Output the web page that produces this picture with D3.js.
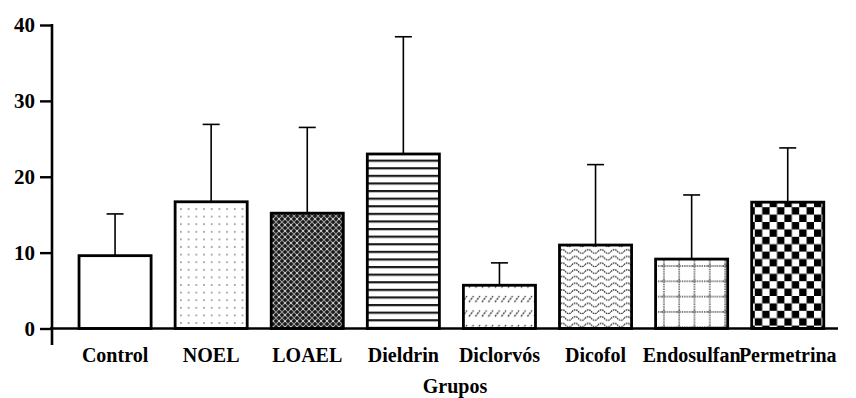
<!DOCTYPE html>
<html>
<head>
<meta charset="utf-8">
<script src="https://cdn.jsdelivr.net/npm/d3@7"></script>
<style>
  html, body { margin: 0; padding: 0; background: #fff; }
  svg { display: block; }
</style>
</head>
<body>
<svg id="chart" width="856" height="398"></svg>
<script>
const categories = ["Control", "NOEL", "LOAEL", "Dieldrin", "Diclorvós", "Dicofol", "Endosulfan", "Permetrina"];
const means = [9.6, 16.7, 15.2, 23.0, 5.7, 11.0, 9.15, 16.65];
const errorTops = [15.1, 26.9, 26.5, 38.45, 8.65, 21.6, 17.6, 23.8];
const yTicks = [0, 10, 20, 30, 40];
const xTitle = "Grupos";
const patternIds = ["pControl", "pNoel", "pLoael", "pDieldrin", "pDiclorvos", "pDicofol", "pEndosulfan", "pPermetrina"];
const FONT = "'Liberation Serif', 'Times New Roman', Times, serif";

const svg = d3.select("#chart");
const defs = svg.append("defs");

// Patterns
defs.append("pattern").attr("id", "pControl").attr("patternUnits", "userSpaceOnUse")
  .attr("width", 8).attr("height", 8)
  .append("rect").attr("width", 8).attr("height", 8).attr("fill", "#fff");

(function(){
  const p = defs.append("pattern").attr("id", "pNoel").attr("patternUnits", "userSpaceOnUse")
    .attr("width", 7.7).attr("height", 7.6);
  p.append("rect").attr("width", 7.7).attr("height", 7.6).attr("fill", "#fff");
  p.append("circle").attr("cx", 3.8).attr("cy", 3.8).attr("r", 0.9).attr("fill", "#888");
})();

(function(){
  const p = defs.append("pattern").attr("id", "pLoael").attr("patternUnits", "userSpaceOnUse")
    .attr("width", 6).attr("height", 6);
  p.append("rect").attr("width", 6).attr("height", 6).attr("fill", "#1a1a1a");
  p.append("path").attr("d", "M0,0L6,6M6,0L0,6").attr("stroke", "#9a9a9a").attr("stroke-width", 1.1);
  p.append("circle").attr("cx", 3).attr("cy", 3).attr("r", 0.9).attr("fill", "#e0e0e0");
})();

(function(){
  const p = defs.append("pattern").attr("id", "pDieldrin").attr("patternUnits", "userSpaceOnUse")
    .attr("width", 8).attr("height", 7.6);
  p.append("rect").attr("width", 8).attr("height", 7.6).attr("fill", "#fff");
  p.append("rect").attr("y", 0).attr("width", 8).attr("height", 2.2).attr("fill", "#1a1a1a");
})();

(function(){
  const p = defs.append("pattern").attr("id", "pDiclorvos").attr("patternUnits", "userSpaceOnUse")
    .attr("width", 6.5).attr("height", 14.5).attr("y", 3);
  p.append("rect").attr("width", 6.5).attr("height", 14.5).attr("fill", "#fff");
  p.append("path").attr("d", "M1,9L5.5,3").attr("stroke", "#333").attr("stroke-width", 1.4)
    .attr("stroke-dasharray", "2,1");
})();

(function(){
  const p = defs.append("pattern").attr("id", "pDicofol").attr("patternUnits", "userSpaceOnUse")
    .attr("width", 13).attr("height", 6.7);
  p.append("rect").attr("width", 13).attr("height", 6.7).attr("fill", "#fff");
  p.append("path").attr("d", "M0,3.5C2,1 4.5,1 6.5,3.5C8.5,6 11,6 13,3.5")
    .attr("fill", "none").attr("stroke", "#333").attr("stroke-width", 1.3).attr("stroke-dasharray", "1.6,0.8");
})();

(function(){
  const p = defs.append("pattern").attr("id", "pEndosulfan").attr("patternUnits", "userSpaceOnUse")
    .attr("width", 15.3).attr("height", 15.3).attr("x", 4).attr("y", 4);
  p.append("rect").attr("width", 15.3).attr("height", 15.3).attr("fill", "#fff");
  p.append("path").attr("d", "M0,2L15.3,2M2,0L2,15.3").attr("stroke", "#444").attr("stroke-width", 1.4)
    .attr("stroke-dasharray", "1.3,1");
})();

(function(){
  const s = 7.4;
  const p = defs.append("pattern").attr("id", "pPermetrina").attr("patternUnits", "userSpaceOnUse")
    .attr("width", 2 * s).attr("height", 2 * s);
  p.append("rect").attr("width", 2 * s).attr("height", 2 * s).attr("fill", "#fff");
  p.append("rect").attr("x", s).attr("y", 0).attr("width", s).attr("height", s).attr("fill", "#000");
  p.append("rect").attr("x", 0).attr("y", s).attr("width", s).attr("height", s).attr("fill", "#000");
})();

// Scales
const x = d3.scaleBand().domain(categories).range([50.2, 852.6]).paddingInner(0.25).paddingOuter(0.3);
const y = d3.scaleLinear().domain([0, 40]).range([328.5, 25]);

// Error bars (upper only)
const capW = 17;
const eg = svg.append("g");
categories.forEach((c, i) => {
  const cx = x(c) + x.bandwidth() / 2;
  eg.append("line").attr("x1", cx).attr("x2", cx).attr("y1", y(means[i])).attr("y2", y(errorTops[i]))
    .attr("stroke", "#000").attr("stroke-width", 1.6);
  eg.append("line").attr("x1", cx - capW / 2).attr("x2", cx + capW / 2).attr("y1", y(errorTops[i])).attr("y2", y(errorTops[i]))
    .attr("stroke", "#000").attr("stroke-width", 1.6);
});

// Bars
svg.append("g").selectAll("rect").data(categories).join("rect")
  .attr("x", d => x(d))
  .attr("width", x.bandwidth())
  .attr("y", (d, i) => y(means[i]))
  .attr("height", (d, i) => y(0) - y(means[i]))
  .attr("fill", (d, i) => `url(#${patternIds[i]})`)
  .attr("stroke", "#000").attr("stroke-width", 2.8);

// Y axis
const yAxis = d3.axisLeft(y).tickValues(yTicks).tickSize(12).tickPadding(5).tickFormat(d3.format("d"));
const yg = svg.append("g").attr("transform", "translate(52,0)").call(yAxis);
yg.attr("font-family", null).attr("font-size", null);
yg.select(".domain").remove();
yg.selectAll(".tick line").attr("stroke", "#000").attr("stroke-width", 2.4);
yg.selectAll(".tick text")
  .style("font-family", FONT).style("font-weight", "bold").style("font-size", "21px")
  .attr("fill", "#000").attr("dy", "0.33em");
svg.append("line").attr("x1", 52).attr("x2", 52).attr("y1", y(40) - 1).attr("y2", 345)
  .attr("stroke", "#000").attr("stroke-width", 2.6);

// X axis
const xAxis = d3.axisBottom(x).tickSize(0).tickPadding(0);
const xg = svg.append("g").attr("transform", `translate(0,${y(0)})`).call(xAxis);
xg.attr("font-family", null).attr("font-size", null);
xg.select(".domain").remove();
xg.selectAll(".tick text")
  .style("font-family", FONT).style("font-weight", "bold").style("font-size", "20px")
  .attr("fill", "#000").attr("y", 33.5).attr("dy", 0);
svg.append("line").attr("x1", 50).attr("x2", 838).attr("y1", y(0)).attr("y2", y(0))
  .attr("stroke", "#000").attr("stroke-width", 2.6);

svg.append("text").attr("x", 455).attr("y", 392.5).attr("text-anchor", "middle")
  .style("font-family", FONT).style("font-weight", "bold").style("font-size", "20px")
  .attr("fill", "#000").text(xTitle);
</script>
</body>
</html>
